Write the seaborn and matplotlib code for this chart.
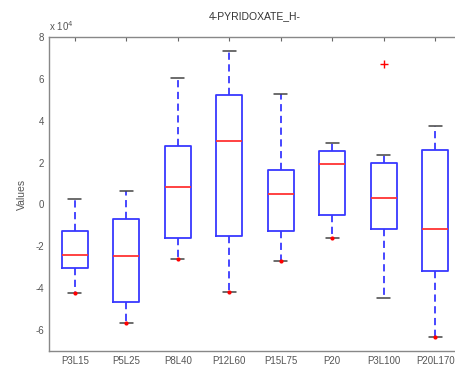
import pandas as pd
import matplotlib
matplotlib.use('Agg')
import matplotlib.pyplot as plt
import matplotlib.ticker as mticker
import seaborn as sns

# --- values (in units of 1e4) ---
groups = ['P3L15', 'P5L25', 'P8L40', 'P12L60', 'P15L75', 'P20', 'P3L100', 'P20L170']
whisker_low = [-4.24, -5.65, -2.62, -4.19, -2.70, -1.61, -4.48, -6.32]
q1 = [-3.05, -4.67, -1.60, -1.50, -1.29, -0.49, -1.16, -3.20]
median = [-2.42, -2.47, 0.83, 3.01, 0.48, 1.93, 0.33, -1.16]
q3 = [-1.28, -0.70, 2.81, 5.23, 1.66, 2.55, 1.98, 2.60]
whisker_high = [0.24, 0.66, 6.06, 7.33, 5.28, 2.93, 2.36, 3.75]
outliers = {'P3L100': [6.73]}
# small red marks sitting on the lower whisker caps
low_mark_groups = ['P3L15', 'P5L25', 'P8L40', 'P12L60', 'P15L75', 'P20', 'P20L170']
SCALE = 1e4

# build samples whose quartiles reproduce the box statistics
rows = []
for i, g in enumerate(groups):
    vals = [whisker_low[i], q1[i], q1[i], median[i], median[i], q3[i], q3[i], whisker_high[i]]
    vals += outliers.get(g, [])
    for v in vals:
        rows.append({'group': g, 'value': v * SCALE})
df = pd.DataFrame(rows)

marks = pd.DataFrame({
    'group': low_mark_groups,
    'value': [whisker_low[groups.index(g)] * SCALE for g in low_mark_groups],
})

sns.set_style('white')
plt.rcParams['font.family'] = ['Liberation Sans', 'DejaVu Sans']
plt.rcParams['axes.unicode_minus'] = False

fig = plt.figure(figsize=(4.56, 3.68), dpi=100)
ax = fig.add_axes([49 / 456, 17 / 368, 412 / 456, 314 / 368])

blue = '#3838ff'
sns.boxplot(
    data=df, x='group', y='value', order=groups,
    fill=False, color=blue, width=0.5, whis=1.5, linewidth=1.3,
    boxprops=dict(color=blue),
    medianprops=dict(color='#ff3333', linewidth=1.3),
    whiskerprops=dict(color=blue, linestyle=(0, (4, 2.5))),
    capprops=dict(color='#444444', linewidth=1.1),
    flierprops=dict(marker='+', markeredgecolor='red', markersize=6, markeredgewidth=1.0),
    ax=ax,
)
sns.stripplot(data=marks, x='group', y='value', order=groups, jitter=False,
              marker='o', color='red', size=3, linewidth=0, ax=ax)

ax.set_ylim(-7 * SCALE, 8 * SCALE)
ax.set_xlim(-0.5, len(groups) - 0.5)
ax.set_yticks([v * SCALE for v in range(-6, 9, 2)])
ax.yaxis.set_major_formatter(mticker.FuncFormatter(lambda v, p: '%d' % round(v / SCALE)))
ax.text(0.0, 1.012, r'x 10$^4$', transform=ax.transAxes, fontsize=7,
        color='#555555', ha='left', va='bottom')

ax.set_xlabel('')
ax.set_ylabel('Values', fontsize=7.5, color='#555555', labelpad=6)
ax.set_title('4-PYRIDOXATE_H-', fontsize=7.5, color='#333333', pad=13)

ax.tick_params(direction='in', top=True, right=True, length=3, width=0.8,
               colors='#666666', labelsize=7, labelcolor='#555555')
for s in ax.spines.values():
    s.set_color('#888888')
    s.set_linewidth(1.0)
ax.spines['right'].set_visible(False)

fig.savefig('out.png', dpi=100)
